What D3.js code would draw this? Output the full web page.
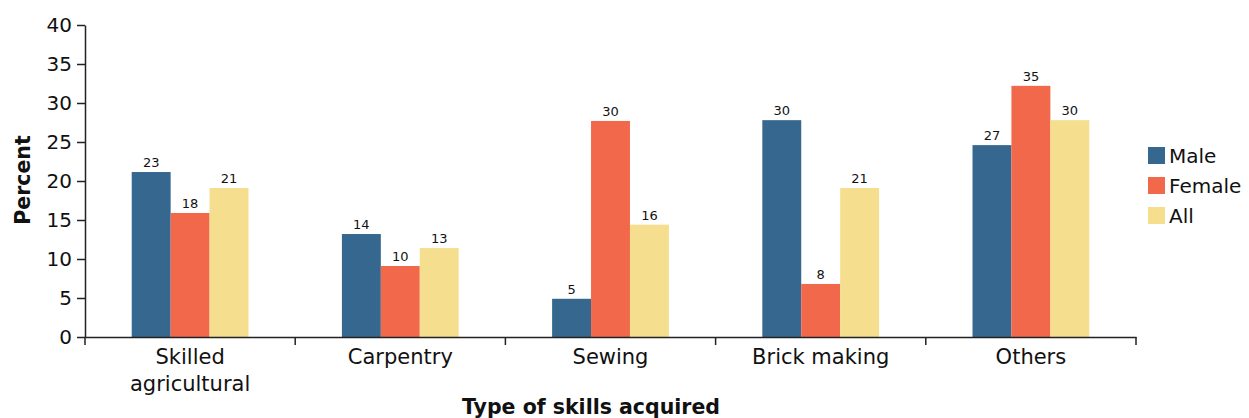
<!DOCTYPE html>
<meta charset="utf-8">
<style>
body { margin: 0; background: #fff; }
text { font-family: Verdana, "DejaVu Sans", sans-serif; fill: #111; }
.axis path, .axis line { stroke: #222; stroke-width: 1.5px; }
.axis text { font-size: 20px; }
.xaxis text { font-size: 21px; }
.lbl { font-size: 13px; }
.title { font-size: 20.5px; font-weight: bold; }
</style>
<body>
<svg width="1249" height="418"></svg>
<script src="https://d3js.org/d3.v7.min.js"></script>
<script>

var categories = ["Skilled agricultural", "Carpentry", "Sewing", "Brick making", "Others"];
var series = ["Male", "Female", "All"];
var colors = ["#36678f", "#f2684a", "#f5de8e"];

// bar heights as drawn
var male   = [21.15, 13.2, 4.9, 27.8, 24.6];
var female = [15.9, 9.1, 27.7, 6.8, 32.2];
var all    = [19.1, 11.4, 14.4, 19.1, 27.8];

// value labels printed above the bars
var maleLabels   = [23, 14, 5, 30, 27];
var femaleLabels = [18, 10, 30, 8, 35];
var allLabels    = [21, 13, 16, 21, 30];

var yTicks = [0, 5, 10, 15, 20, 25, 30, 35, 40];

var values = [male, female, all];
var labels = [maleLabels, femaleLabels, allLabels];

var svg = d3.select("svg");
var margin = {left: 85, right: 113, top: 25, bottom: 81};
var width = 1249 - margin.left - margin.right,
    height = 418 - margin.top - margin.bottom;

var g = svg.append("g").attr("transform", "translate(" + margin.left + "," + margin.top + ")");

var x0 = d3.scaleBand().domain(categories).range([0, width]).padding(0);
var x1 = d3.scaleBand().domain(series).range([0, x0.bandwidth()]).paddingInner(0).paddingOuter(1.2);
var y = d3.scaleLinear().domain([0, 40]).range([height, 0]);
var color = d3.scaleOrdinal().domain(series).range(colors);

var data = [];
categories.forEach(function(c, i) {
  series.forEach(function(s, j) {
    data.push({cat: c, ser: s, value: values[j][i], label: labels[j][i]});
  });
});

g.selectAll("rect.bar")
  .data(data)
  .enter().append("rect")
    .attr("class", "bar")
    .attr("x", function(d) { return x0(d.cat) + x1(d.ser); })
    .attr("y", function(d) { return y(d.value); })
    .attr("width", x1.bandwidth())
    .attr("height", function(d) { return height - y(d.value); })
    .style("fill", function(d) { return color(d.ser); });

g.selectAll("text.lbl")
  .data(data)
  .enter().append("text")
    .attr("class", "lbl")
    .attr("text-anchor", "middle")
    .attr("x", function(d) { return x0(d.cat) + x1(d.ser) + x1.bandwidth() / 2; })
    .attr("y", function(d) { return y(d.value) - 5; })
    .text(function(d) { return d.label; });

// y axis
var yAxis = g.append("g").attr("class", "axis")
  .call(d3.axisLeft(y).tickValues(yTicks).tickSize(8).tickPadding(5).tickSizeOuter(0));

// x axis
var xAxis = g.append("g").attr("class", "axis xaxis")
  .attr("transform", "translate(0," + height + ")")
  .call(d3.axisBottom(x0).tickSize(0).tickSizeOuter(0).tickPadding(0));

xAxis.selectAll(".tick text")
  .attr("y", 0).attr("dy", 0)
  .each(function(d) {
    var t = d3.select(this), words = d.split(" ");
    t.text(null);
    var lines = d === "Skilled agricultural" ? words : [d];
    lines.forEach(function(w, k) {
      t.append("tspan").attr("x", 0).attr("y", 27 + k * 27).text(w);
    });
  });

// boundary ticks between categories
var bounds = categories.map(function(c) { return x0(c); }).concat([width]);
xAxis.selectAll("line.bound")
  .data(bounds)
  .enter().append("line")
    .attr("class", "bound")
    .attr("x1", function(d) { return d; })
    .attr("x2", function(d) { return d; })
    .attr("y1", 0)
    .attr("y2", 8);

// axis titles
svg.append("text")
  .attr("class", "title")
  .attr("text-anchor", "middle")
  .attr("transform", "translate(30,180) rotate(-90)")
  .text("Percent");

svg.append("text")
  .attr("class", "title")
  .attr("text-anchor", "middle")
  .attr("x", 591)
  .attr("y", 414)
  .text("Type of skills acquired");

// legend
var legend = svg.append("g").attr("transform", "translate(1148,147)");
var item = legend.selectAll("g")
  .data(series)
  .enter().append("g")
    .attr("transform", function(d, i) { return "translate(0," + i * 30 + ")"; });
item.append("rect")
  .attr("width", 17).attr("height", 17)
  .style("fill", function(d) { return color(d); });
item.append("text")
  .attr("x", 21).attr("y", 16)
  .style("font-size", "20px")
  .text(function(d) { return d; });

</script>
</body>
</html>
